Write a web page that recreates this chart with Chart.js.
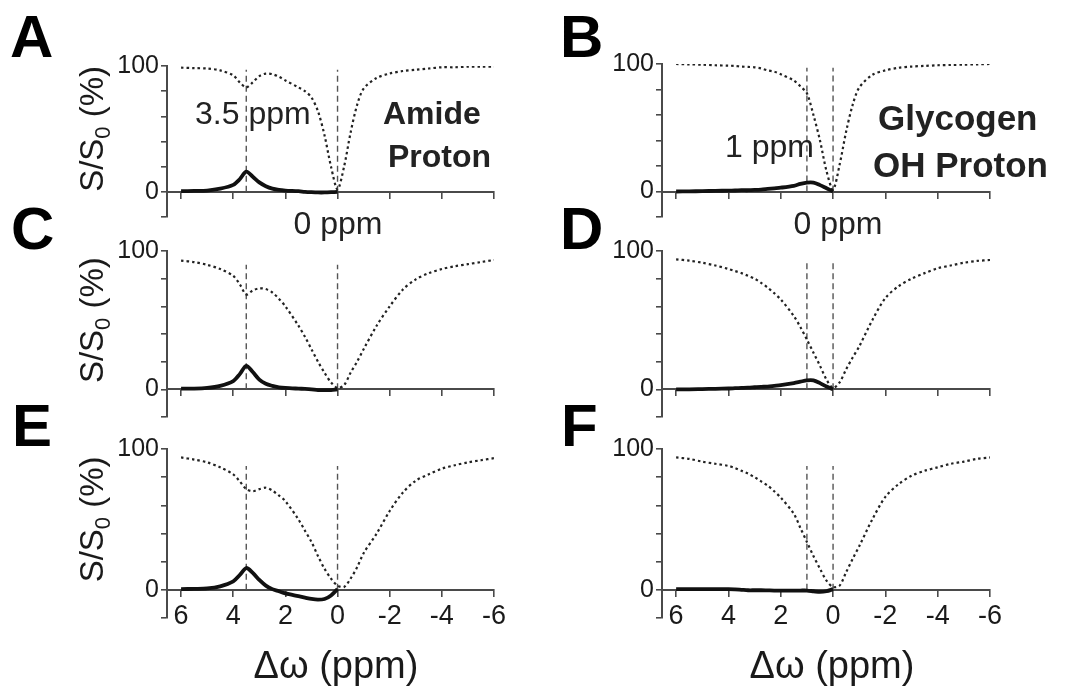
<!DOCTYPE html>
<html>
<head>
<meta charset="utf-8">
<script src="https://cdn.jsdelivr.net/npm/chart.js@4.4.1/dist/chart.umd.min.js"></script>
<style>
  html, body { margin: 0; padding: 0; background: #fff; }
  #fig { position: relative; width: 1078px; height: 686px; overflow: hidden; font-family: 'Liberation Sans', Arial, sans-serif; color: #1a1a1a; }
  #fig canvas { position: absolute; }
  .t { position: absolute; white-space: nowrap; line-height: 1; }
  .letter { font-size: 60px; font-weight: bold; color: #000; }
  .note { font-size: 32px; color: #222; }
  .name { font-size: 32px; font-weight: bold; color: #222; }
  .name2 { font-size: 35px; font-weight: bold; color: #222; }
  .mid { transform: translateX(-50%); }
  .xtitle { font-size: 38px; color: #1a1a1a; }
</style>
</head>
<body>
<div id="fig">
  <canvas id="cA" width="539" height="209" style="left:0;top:40px"></canvas>
  <canvas id="cB" width="539" height="209" style="left:539px;top:38px"></canvas>
  <canvas id="cC" width="539" height="222" style="left:0;top:225px"></canvas>
  <canvas id="cD" width="539" height="222" style="left:539px;top:225px"></canvas>
  <canvas id="cE" width="539" height="225" style="left:0;top:423px"></canvas>
  <canvas id="cF" width="539" height="225" style="left:539px;top:423px"></canvas>

  <div class="t letter" style="left:10px;top:7px">A</div>
  <div class="t letter" style="left:560px;top:7px">B</div>
  <div class="t letter" style="left:11px;top:199px">C</div>
  <div class="t letter" style="left:560px;top:199px">D</div>
  <div class="t letter" style="left:12px;top:396px">E</div>
  <div class="t letter" style="left:561px;top:396px">F</div>

  <div class="t note" style="left:195px;top:97px">3.5 ppm</div>
  <div class="t name" style="left:383px;top:97px">Amide</div>
  <div class="t name" style="left:388px;top:140px">Proton</div>
  <div class="t note mid" style="left:338px;top:207px">0 ppm</div>

  <div class="t note" style="left:725px;top:130px">1 ppm</div>
  <div class="t name2" style="left:878px;top:100px">Glycogen</div>
  <div class="t name2" style="left:873px;top:147px">OH Proton</div>
  <div class="t note mid" style="left:838px;top:207px">0 ppm</div>

  <div class="t xtitle mid" style="left:336px;top:646px">&Delta;&omega; (ppm)</div>
  <div class="t xtitle mid" style="left:832px;top:646px">&Delta;&omega; (ppm)</div>
</div>
<script>
// offsets (ppm) of the Z-spectra
const ppmZ = [6, 5.5, 5, 4.5, 4, 3.75, 3.5, 3.25, 3, 2.75, 2.5, 2.25, 2, 1.5, 1.25, 1, 0.75, 0.5, 0.25, 0,
              -0.25, -0.5, -0.75, -1, -1.5, -2, -2.5, -3, -3.5, -4, -4.5, -5, -5.5, -6];
// the asymmetry curves only run from 6 to 0 ppm
const ppmDiff = [6, 5.5, 5, 4.5, 4, 3.75, 3.5, 3.25, 3, 2.75, 2.5, 2.25, 2, 1.5, 1.25, 1, 0.75, 0.5, 0.25, 0];

const xTicks = [6, 4, 2, 0, -2, -4, -6];
const yTicks = [-20, 0, 20, 40, 60, 80, 100];
const yLabelled = [0, 100];

// Z-spectra (dotted), S/S0 in %
const zA = [98.7, 98.3, 98, 96.5, 92.6, 87, 83, 87, 92, 94, 93.5, 91.5, 88.5, 83, 80, 75, 64, 45, 20, 2,
            20, 47, 69, 82, 90.5, 94, 96, 97, 98, 99, 99, 99.5, 99.5, 99.5];
const zB = [100, 99.7, 99.5, 99, 98.7, 98.5, 98, 97.7, 97.4, 96.5, 95, 94, 92, 87, 82.5, 77, 60, 40, 16, 1.5,
            21, 47, 68, 81.5, 91.5, 95, 97, 98, 98.5, 99, 99.3, 99.5, 99.7, 100];
const zC = [93, 92, 90, 87, 82, 76, 68.5, 71.5, 73, 72.5, 70, 65.5, 60, 46, 38, 29, 20, 12, 5, 1,
            3, 12, 20, 29, 46, 60, 72, 79.5, 84, 87, 89, 90.5, 92, 93.5];
const zD = [94, 93, 91.5, 89.5, 87, 85.5, 84, 82, 80, 77, 73.5, 69.5, 65, 53, 45, 36, 26.5, 17, 7, 1,
            5, 14.5, 23, 31, 50, 66, 74.5, 80, 84, 87.5, 89.5, 91.5, 92.8, 93.5];
const zE = [94, 92.5, 90.5, 87, 82, 77, 71.5, 70, 71.5, 72.5, 70.5, 67, 63, 50, 42, 34, 24, 15, 8, 3,
            2, 8, 16, 26, 40, 56, 69, 77.5, 82, 86, 88.5, 90.5, 92, 93.5];
const zF = [94, 93, 91, 89.5, 88, 86.5, 84.5, 82.5, 80, 77, 74, 70, 65.5, 54, 44, 34, 24, 15, 6.5, 2,
            3, 12.5, 22, 31, 50, 66, 75, 81, 84.5, 87, 89.5, 91, 93, 94];

// asymmetry (solid)
const dA = [0.5, 0.7, 1, 2.5, 5.5, 10, 16, 12, 7.5, 4.5, 2.5, 1.5, 1, 0.5, 0, -0.3, -0.5, -0.5, -0.3, 0];
const dB = [0, 0.1, 0.3, 0.5, 0.7, 0.8, 1, 1, 1.2, 1.5, 2, 2.5, 3, 4.5, 6, 7, 7, 5, 2.5, 0];
const dC = [0.5, 0.5, 1, 2.5, 6, 11, 17, 12.5, 7, 4, 2.5, 1.5, 1, 0.5, 0.3, 0, -0.5, -0.5, -0.5, 0];
const dD = [0, 0, 0.2, 0.4, 0.6, 0.8, 1, 1.2, 1.5, 1.8, 2, 2.5, 3, 4.5, 5.5, 6.5, 6.5, 4.5, 2, 0];
const dE = [0.5, 0.7, 1, 2.5, 6, 10.5, 15.5, 12, 7, 3, 0.5, -1, -2.5, -4.5, -5.5, -6.5, -7, -6.5, -4, 0.5];
const dF = [0.5, 0.5, 0.5, 0.5, 0.5, 0.3, 0, -0.3, -0.3, -0.3, -0.4, -0.5, -0.5, -0.5, -0.5, -0.5, -1, -1.5, -1, 0.5];

// dashed marker lines: offsets and their top values
const markAmide = [3.5, 0];
const markGlyco = [1, 0];
const markTop = { A: 97, B: 97, C: 90, D: 92, E: 88, F: 88 };

const FONT = "'Liberation Sans', Arial, sans-serif";
const AXIS = '#4a4a4a';
const YW = 60;

function pts(xs, ys) {
    return xs.map(function(x, i) { return { x: x, y: ys[i] }; });
}

// rotated "S/S0 (%)" title with a real subscript
const yTitle = {
    id: 'yTitle',
    afterDraw: function(chart, args, opts) {
        if (!opts.show) return;
        const ys = chart.scales.y;
        const cy = (ys.getPixelForValue(0) + ys.getPixelForValue(100)) / 2;
        const ctx = chart.ctx;
        ctx.save();
        ctx.translate(opts.x, cy);
        ctx.rotate(-Math.PI / 2);
        ctx.fillStyle = '#1a1a1a';
        ctx.textBaseline = 'alphabetic';
        const big = '33px ' + FONT, small = '22px ' + FONT;
        ctx.font = big;
        const w1 = ctx.measureText('S/S').width;
        const w3 = ctx.measureText(' (%)').width;
        ctx.font = small;
        const w2 = ctx.measureText('0').width;
        let x = -(w1 + w2 + w3) / 2;
        ctx.font = big; ctx.fillText('S/S', x, 0); x += w1;
        ctx.font = small; ctx.fillText('0', x, 7); x += w2;
        ctx.font = big; ctx.fillText(' (%)', x, 0);
        ctx.restore();
    }
};

function panel(id, cfg) {
    const el = document.getElementById(id);
    const canvasLeft = parseFloat(el.style.left) || 0;
    const canvasTop = parseFloat(el.style.top) || 0;
    const pad = {
        left: cfg.plot.l - canvasLeft - YW,
        top: cfg.plot.t - canvasTop,
        right: canvasLeft + el.width - cfg.plot.r,
        bottom: canvasTop + el.height - cfg.plot.b
    };

    const datasets = [{
        data: pts(ppmDiff, cfg.diff),
        borderColor: '#111',
        borderWidth: 3.8,
        tension: 0.3
    }, {
        data: pts(ppmZ, cfg.z),
        borderColor: '#222',
        borderWidth: 2.2,
        borderDash: [2.5, 3],
        tension: 0.3
    }];
    cfg.marks.forEach(function(m) {
        datasets.push({
            data: [{ x: m, y: 0 }, { x: m, y: cfg.top }],
            borderColor: '#555',
            borderWidth: 1.4,
            borderDash: [6, 4],
            tension: 0
        });
    });

    return new Chart(el, {
        type: 'line',
        data: { datasets: datasets },
        options: {
            responsive: false,
            animation: false,
            layout: { padding: pad },
            plugins: {
                legend: { display: false },
                tooltip: { enabled: false },
                yTitle: { show: cfg.title, x: 103 }
            },
            elements: { point: { radius: 0 } },
            scales: {
                x: {
                    type: 'linear',
                    reverse: true,
                    min: -6,
                    max: 6.54,
                    position: { y: 0 },
                    afterBuildTicks: function(s) { s.ticks = xTicks.map(function(v) { return { value: v }; }); },
                    grid: { drawOnChartArea: false, drawTicks: true, tickLength: 6, color: AXIS, lineWidth: 1.6 },
                    border: { color: AXIS, width: 2 },
                    ticks: {
                        display: cfg.xLabels,
                        autoSkip: false,
                        maxRotation: 0,
                        padding: 5,
                        color: '#1a1a1a',
                        font: { family: FONT, size: 27 }
                    }
                },
                y: {
                    min: -20,
                    max: 100,
                    position: 'left',
                    afterFit: function(s) { s.width = YW; },
                    afterBuildTicks: function(s) { s.ticks = yTicks.map(function(v) { return { value: v }; }); },
                    grid: { drawOnChartArea: false, drawTicks: true, tickLength: 6, color: AXIS, lineWidth: 1.6 },
                    border: { color: AXIS, width: 2 },
                    ticks: {
                        autoSkip: false,
                        padding: 2,
                        color: '#1a1a1a',
                        font: { family: FONT, size: 25 },
                        callback: function(v) { return yLabelled.indexOf(v) >= 0 ? String(v) : ''; }
                    }
                }
            }
        },
        plugins: [yTitle]
    });
}

panel('cA', { plot: { l: 167, t: 66, r: 494, b: 217 }, z: zA, diff: dA, marks: markAmide, top: markTop.A, title: true, xLabels: false });
panel('cB', { plot: { l: 662, t: 64, r: 990, b: 217 }, z: zB, diff: dB, marks: markGlyco, top: markTop.B, title: false, xLabels: false });
panel('cC', { plot: { l: 167, t: 251, r: 494, b: 417 }, z: zC, diff: dC, marks: markAmide, top: markTop.C, title: true, xLabels: false });
panel('cD', { plot: { l: 662, t: 251, r: 990, b: 417 }, z: zD, diff: dD, marks: markGlyco, top: markTop.D, title: false, xLabels: false });
panel('cE', { plot: { l: 167, t: 449, r: 494, b: 618 }, z: zE, diff: dE, marks: markAmide, top: markTop.E, title: true, xLabels: true });
panel('cF', { plot: { l: 662, t: 449, r: 990, b: 618 }, z: zF, diff: dF, marks: markGlyco, top: markTop.F, title: false, xLabels: true });
</script>
</body>
</html>
